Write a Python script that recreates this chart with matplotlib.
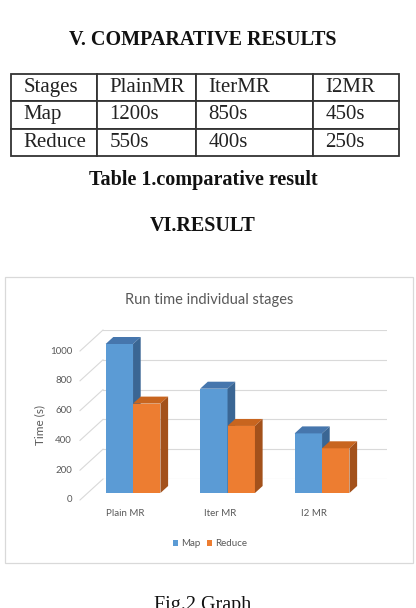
import matplotlib
matplotlib.use('Agg')
import matplotlib.pyplot as plt
from matplotlib.patches import Polygon, Rectangle
from matplotlib.lines import Line2D
from matplotlib.transforms import offset_copy

# ---------------- data ----------------
table_header = ['Stages', 'PlainMR', 'IterMR', 'I2MR']
table_rows = [['Map', '1200s', '850s', '450s'],
              ['Reduce', '550s', '400s', '250s']]
categories = ['Plain MR', 'Iter MR', 'I2 MR']
map_times = [1000, 700, 400]
reduce_times = [600, 450, 300]
series_names = ['Map', 'Reduce']
y_ticks = [0, 200, 400, 600, 800, 1000]

# ---------------- figure / page ----------------
W, H = 416, 608
DPI = 100
fig = plt.figure(figsize=(W / DPI, H / DPI), dpi=DPI)
fig.patch.set_facecolor('white')

page = fig.add_axes([0, 0, 1, 1], zorder=0)
page.set_xlim(0, W)
page.set_ylim(H, 0)
page.axis('off')

serif = 'Liberation Serif'
sans = 'Lato'
txt_grey = '#595959'

page.text(203, 45, 'V. COMPARATIVE RESULTS', ha='center', va='baseline',
          fontsize=14.5, fontweight='bold', family=serif, color='#111111')

col_px = [86, 99, 117, 86]
tot = sum(col_px)
tbl = page.table(cellText=table_rows, colLabels=table_header,
                 colWidths=[c / tot for c in col_px], cellLoc='left', colLoc='left',
                 bbox=[11 / W, 1 - 156 / H, tot / W, 82 / H])
tbl.auto_set_font_size(False)
tbl.set_fontsize(15)
for (r, c), cell in tbl.get_celld().items():
    cell.set_edgecolor('#333333')
    cell.set_linewidth(1.3)
    cell.PAD = 12.5 / col_px[c]
    cell.get_text().set_fontfamily(serif)
    cell.get_text().set_color('#222222')

page.text(203, 185, 'Table 1.comparative result', ha='center', va='baseline',
          fontsize=14.5, fontweight='bold', family=serif, color='#111111')
page.text(203, 231, 'VI.RESULT', ha='center', va='baseline',
          fontsize=14.5, fontweight='bold', family=serif, color='#111111')
page.text(203, 610, 'Fig.2 Graph', ha='center', va='baseline',
          fontsize=14.5, family=serif, color='#111111')

# chart frame
page.add_patch(Rectangle((5, 277), 408, 286, facecolor='white',
                         edgecolor='#D9D9D9', linewidth=0.9))

fig.text(209 / W, 1 - 300 / H, 'Run time individual stages', ha='center',
         va='center', fontsize=10.5, color=txt_grey, family=sans)
fig.text(40 / W, 1 - 425 / H, 'Time (s)', rotation=90, ha='center',
         va='center', fontsize=8.5, color=txt_grey, family=sans)

# ---------------- chart (back wall plane) ----------------
ax_l, ax_r, ax_b, ax_t = 103, 387, 479, 330
ax = fig.add_axes([ax_l / W, 1 - ax_b / H, (ax_r - ax_l) / W, (ax_b - ax_t) / H], zorder=2)
ax.set_facecolor('none')
xl = (-0.48, 2.525)
ax.set_xlim(*xl)
ax.set_ylim(0, 1000)
for s in ax.spines.values():
    s.set_visible(False)
ax.set_xticks([])
ax.set_yticks(y_ticks)
ax.tick_params(left=False, labelleft=False)
ax.grid(axis='y', color='#D9D9D9', linewidth=0.8)
ax.set_axisbelow(True)

px_x = (ax_r - ax_l) / (xl[1] - xl[0])
px_y = (ax_b - ax_t) / 1000.0
DEPTH = (23, 21)            # pixels from back wall to front edge
ddx = -DEPTH[0] / px_x      # data units
ddy = -DEPTH[1] / px_y

# left side wall lines
for v in y_ticks:
    ax.add_line(Line2D([xl[0], xl[0] + ddx], [v, v + ddy], color='#D9D9D9',
                       linewidth=0.8, clip_on=False, zorder=1))

front_cols = ['#5B9BD5', '#ED7D31']
top_cols = ['#4676AD', '#C8651F']
side_cols = ['#3A6694', '#A3511B']
bar_w = 0.29
f_front, f_back = 2 / 3, 1 / 3

containers = []
for s, vals in enumerate([map_times, reduce_times]):
    x0s = [i - bar_w + s * bar_w for i in range(len(categories))]
    bc = ax.bar([x + f_front * ddx for x in x0s], vals, width=bar_w,
                bottom=f_front * ddy, align='edge', color=front_cols[s],
                linewidth=0, clip_on=False, label=series_names[s], zorder=3 + s)
    containers.append(bc)
    for x0, v in zip(x0s, vals):
        x1 = x0 + bar_w
        top = [(x0 + f_front * ddx, v + f_front * ddy), (x1 + f_front * ddx, v + f_front * ddy),
               (x1 + f_back * ddx, v + f_back * ddy), (x0 + f_back * ddx, v + f_back * ddy)]
        side = [(x1 + f_front * ddx, f_front * ddy), (x1 + f_front * ddx, v + f_front * ddy),
                (x1 + f_back * ddx, v + f_back * ddy), (x1 + f_back * ddx, f_back * ddy)]
        ax.add_patch(Polygon(top, closed=True, facecolor=top_cols[s], linewidth=0,
                             clip_on=False, zorder=3 + s))
        ax.add_patch(Polygon(side, closed=True, facecolor=side_cols[s], linewidth=0,
                             clip_on=False, zorder=3 + s))

# tick labels on the front edge
ytr = offset_copy(ax.transData, fig=fig, x=-DEPTH[0] - 8, y=-DEPTH[1], units='dots')
for v in y_ticks:
    ax.text(xl[0], v, str(v), transform=ytr, ha='right', va='center',
            fontsize=7, color=txt_grey, family=sans)
xtr = offset_copy(ax.transData, fig=fig, x=-DEPTH[0], y=-DEPTH[1] - 14, units='dots')
for i, c in enumerate(categories):
    ax.text(i, 0, c, transform=xtr, ha='center', va='center',
            fontsize=7, color=txt_grey, family=sans)

leg = ax.legend(handles=containers, loc='center', bbox_to_anchor=(210 / W, 1 - 544 / H),
                bbox_transform=fig.transFigure, ncol=2, frameon=False,
                handlelength=0.55, handleheight=0.55, handletextpad=0.3,
                columnspacing=0.7, prop={'family': sans, 'size': 7})
for t in leg.get_texts():
    t.set_color(txt_grey)

fig.savefig('out.png', dpi=DPI)
